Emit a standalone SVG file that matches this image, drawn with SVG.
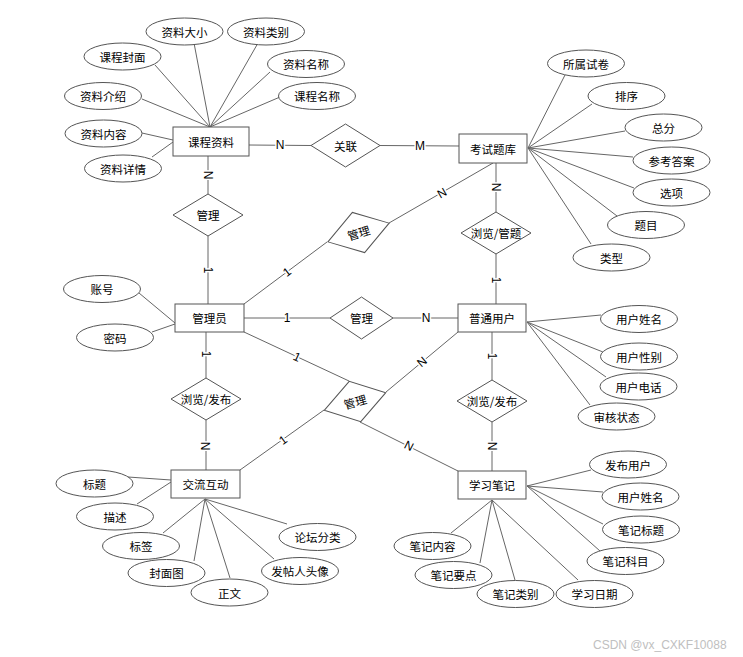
<svg xmlns="http://www.w3.org/2000/svg" width="743" height="657" viewBox="0 0 743 657">
<style>
.l{stroke:#666;stroke-width:1;fill:none}
.e{fill:#fff;stroke:#555;stroke-width:1}
.r{fill:#fff;stroke:#555;stroke-width:1}
.d{fill:#fff;stroke:#555;stroke-width:1}
.t{font-family:"Noto Sans CJK SC","Microsoft YaHei",sans-serif;font-size:11.5px;fill:#000;text-anchor:middle;dominant-baseline:central}
.c{font-family:"Liberation Sans",Arial,sans-serif;font-size:12px;fill:#000;text-anchor:middle;dominant-baseline:central;stroke:#fff;stroke-width:3;paint-order:stroke;stroke-linejoin:round}
.w{font-family:"Liberation Sans",Arial,sans-serif;font-size:12px;fill:#c0c0c0}
</style>
<rect width="743" height="657" fill="#fff"/>
<g id="connectors">
<line class="l" x1="249" y1="145" x2="311" y2="145.5"/>
<line class="l" x1="380" y1="145.5" x2="459" y2="146"/>
<line class="l" x1="208" y1="156" x2="208" y2="194"/>
<line class="l" x1="208" y1="236" x2="208" y2="304"/>
<line class="l" x1="244" y1="318" x2="330" y2="318"/>
<line class="l" x1="393" y1="318" x2="458" y2="318"/>
<line class="l" x1="244" y1="304" x2="327" y2="242"/>
<line class="l" x1="389" y1="223" x2="493" y2="163"/>
<line class="l" x1="496" y1="163" x2="496" y2="212"/>
<line class="l" x1="496" y1="254" x2="496" y2="304"/>
<line class="l" x1="492" y1="332" x2="492" y2="380"/>
<line class="l" x1="492" y1="422" x2="492" y2="471"/>
<line class="l" x1="458" y1="332" x2="386" y2="392"/>
<line class="l" x1="244" y1="332" x2="349" y2="381"/>
<line class="l" x1="360" y1="422" x2="458" y2="471"/>
<line class="l" x1="240" y1="470" x2="324" y2="410"/>
<line class="l" x1="206" y1="332" x2="206" y2="378"/>
<line class="l" x1="206" y1="420" x2="206" y2="470"/>
<!-- 课程资料 attributes -->
<line class="l" x1="155" y1="65" x2="210" y2="127"/>
<line class="l" x1="194" y1="43" x2="210" y2="127"/>
<line class="l" x1="258" y1="43" x2="210" y2="127"/>
<line class="l" x1="270" y1="72" x2="210" y2="127"/>
<line class="l" x1="280" y1="97" x2="210" y2="127"/>
<line class="l" x1="142" y1="99" x2="210" y2="127"/>
<line class="l" x1="142" y1="133" x2="173" y2="140"/>
<line class="l" x1="152" y1="157" x2="173" y2="142"/>
<!-- 考试题库 attributes -->
<line class="l" x1="565" y1="75" x2="528" y2="148"/>
<line class="l" x1="592" y1="104" x2="528" y2="148"/>
<line class="l" x1="625" y1="131" x2="528" y2="148"/>
<line class="l" x1="633" y1="157" x2="528" y2="148"/>
<line class="l" x1="634" y1="188" x2="528" y2="148"/>
<line class="l" x1="617" y1="216" x2="528" y2="148"/>
<line class="l" x1="591" y1="244" x2="528" y2="148"/>
<!-- 管理员 attributes -->
<line class="l" x1="139" y1="293" x2="175" y2="323"/>
<line class="l" x1="152" y1="332" x2="175" y2="324"/>
<!-- 普通用户 attributes -->
<line class="l" x1="601" y1="315" x2="527" y2="322"/>
<line class="l" x1="603" y1="352" x2="527" y2="322"/>
<line class="l" x1="606" y1="377" x2="527" y2="322"/>
<line class="l" x1="590" y1="405" x2="527" y2="322"/>
<!-- 交流互动 attributes -->
<line class="l" x1="128" y1="477" x2="171" y2="480"/>
<line class="l" x1="137" y1="504" x2="171" y2="482"/>
<line class="l" x1="163" y1="533" x2="205" y2="499"/>
<line class="l" x1="194" y1="561" x2="205" y2="499"/>
<line class="l" x1="230" y1="578" x2="205" y2="499"/>
<line class="l" x1="274" y1="559" x2="205" y2="499"/>
<line class="l" x1="287" y1="524" x2="205" y2="499"/>
<!-- 学习笔记 attributes -->
<line class="l" x1="591" y1="470" x2="527" y2="486"/>
<line class="l" x1="603" y1="492" x2="527" y2="486"/>
<line class="l" x1="603" y1="524" x2="527" y2="486"/>
<line class="l" x1="600" y1="551" x2="527" y2="486"/>
<line class="l" x1="451" y1="533" x2="492" y2="500"/>
<line class="l" x1="480" y1="563" x2="492" y2="500"/>
<line class="l" x1="515" y1="580" x2="492" y2="500"/>
<line class="l" x1="578" y1="580" x2="492" y2="500"/>
<!-- cardinality labels -->
<text class="c" x="280" y="145">N</text>
<text class="c" x="420" y="146">M</text>
<text class="c" transform="translate(208,175) rotate(90)">N</text>
<text class="c" transform="translate(208,270) rotate(90)">1</text>
<text class="c" x="287" y="318">1</text>
<text class="c" x="426" y="318">N</text>
<text class="c" transform="translate(287,272) rotate(-37)">1</text>
<text class="c" transform="translate(442,193) rotate(-30)">N</text>
<text class="c" transform="translate(496,187) rotate(90)">N</text>
<text class="c" transform="translate(496,280) rotate(90)">1</text>
<text class="c" transform="translate(492,356) rotate(90)">1</text>
<text class="c" transform="translate(492,446) rotate(90)">N</text>
<text class="c" transform="translate(422,362) rotate(-40)">N</text>
<text class="c" transform="translate(297,357) rotate(25)">1</text>
<text class="c" transform="translate(409,446) rotate(27)">N</text>
<text class="c" transform="translate(283,440) rotate(-36)">1</text>
<text class="c" transform="translate(206,354) rotate(90)">1</text>
<text class="c" transform="translate(205,446) rotate(90)">N</text>
</g>
<g id="entity-kczl"><rect class="r" x="173" y="127" width="76" height="29"/><text class="t" x="211" y="141.5">课程资料</text></g>
<g id="entity-kstk"><rect class="r" x="459" y="134" width="68" height="29"/><text class="t" x="493" y="148.5">考试题库</text></g>
<g id="entity-gly"><rect class="r" x="175" y="304" width="69" height="28"/><text class="t" x="209.5" y="318">管理员</text></g>
<g id="entity-ptyh"><rect class="r" x="458" y="304" width="68" height="28"/><text class="t" x="492" y="318">普通用户</text></g>
<g id="entity-jlhd"><rect class="r" x="171" y="470" width="69" height="28"/><text class="t" x="205.5" y="484">交流互动</text></g>
<g id="entity-xxbj"><rect class="r" x="458" y="471" width="68" height="28"/><text class="t" x="492" y="485">学习笔记</text></g>

<g id="rel-guanlian"><polygon class="d" points="311,145.5 345.5,124 380,145.5 345.5,167"/><text class="t" x="345.5" y="145.5">关联</text></g>
<g id="rel-guanli-1"><polygon class="d" points="173,215 208,194 243,215 208,236"/><text class="t" x="208" y="215">管理</text></g>
<g id="rel-llgt"><polygon class="d" points="461,233 496,212 531,233 496,254"/><text class="t" x="496" y="233">浏览/管题</text></g>
<g id="rel-guanli-2"><polygon class="d" points="330,318 361.5,297 393,318 361.5,339"/><text class="t" x="361.5" y="318">管理</text></g>
<g id="rel-llfb-1"><polygon class="d" points="457,401 492,380 527,401 492,422"/><text class="t" x="492" y="401">浏览/发布</text></g>
<g id="rel-llfb-2"><polygon class="d" points="171,399 206,378 241,399 206,420"/><text class="t" x="206" y="399">浏览/发布</text></g>
<g id="rel-guanli-3" transform="translate(358.5,232.5) rotate(-17)"><polygon class="d" points="-32,0 0,-21 32,0 0,21"/><text class="t" x="0" y="0">管理</text></g>
<g id="rel-guanli-4" transform="translate(355,401.5) rotate(-16)"><polygon class="d" points="-32,0 0,-21 32,0 0,21"/><text class="t" x="0" y="0">管理</text></g>

<g id="attr-zldx"><ellipse class="e" cx="184.5" cy="31.5" rx="38.5" ry="13.5"/><text class="t" x="184.5" y="31.5">资料大小</text></g>
<g id="attr-zllb"><ellipse class="e" cx="266" cy="31.5" rx="38.5" ry="13.5"/><text class="t" x="266" y="31.5">资料类别</text></g>
<g id="attr-kcfm"><ellipse class="e" cx="122.5" cy="56.5" rx="38.5" ry="13.5"/><text class="t" x="122.5" y="56.5">课程封面</text></g>
<g id="attr-zlmc"><ellipse class="e" cx="306" cy="64" rx="38.5" ry="13.5"/><text class="t" x="306" y="64">资料名称</text></g>
<g id="attr-zljs"><ellipse class="e" cx="103" cy="96" rx="38.5" ry="13.5"/><text class="t" x="103" y="96">资料介绍</text></g>
<g id="attr-kcmc"><ellipse class="e" cx="317" cy="96" rx="38.5" ry="13.5"/><text class="t" x="317" y="96">课程名称</text></g>
<g id="attr-zlnr"><ellipse class="e" cx="103.5" cy="133.5" rx="38.5" ry="13.5"/><text class="t" x="103.5" y="133.5">资料内容</text></g>
<g id="attr-zlxq"><ellipse class="e" cx="123" cy="168.5" rx="38.5" ry="13.5"/><text class="t" x="123" y="168.5">资料详情</text></g>

<g id="attr-sssj"><ellipse class="e" cx="586" cy="63.5" rx="38.5" ry="13.5"/><text class="t" x="586" y="63.5">所属试卷</text></g>
<g id="attr-px"><ellipse class="e" cx="626.5" cy="96" rx="38.5" ry="13.5"/><text class="t" x="626.5" y="96">排序</text></g>
<g id="attr-zf"><ellipse class="e" cx="663.5" cy="127.5" rx="38.5" ry="13.5"/><text class="t" x="663.5" y="127.5">总分</text></g>
<g id="attr-ckda"><ellipse class="e" cx="671.5" cy="160.5" rx="38.5" ry="13.5"/><text class="t" x="671.5" y="160.5">参考答案</text></g>
<g id="attr-xx"><ellipse class="e" cx="671.5" cy="192.5" rx="38.5" ry="13.5"/><text class="t" x="671.5" y="192.5">选项</text></g>
<g id="attr-tm"><ellipse class="e" cx="646" cy="225" rx="38.5" ry="13.5"/><text class="t" x="646" y="225">题目</text></g>
<g id="attr-lx"><ellipse class="e" cx="611.5" cy="257.5" rx="38.5" ry="13.5"/><text class="t" x="611.5" y="257.5">类型</text></g>

<g id="attr-zh"><ellipse class="e" cx="102" cy="289" rx="38.5" ry="13.5"/><text class="t" x="102" y="289">账号</text></g>
<g id="attr-mm"><ellipse class="e" cx="115" cy="337.5" rx="38.5" ry="13.5"/><text class="t" x="115" y="337.5">密码</text></g>

<g id="attr-yhxm"><ellipse class="e" cx="639" cy="319" rx="38.5" ry="13.5"/><text class="t" x="639" y="319">用户姓名</text></g>
<g id="attr-yhxb"><ellipse class="e" cx="639" cy="356.5" rx="38.5" ry="13.5"/><text class="t" x="639" y="356.5">用户性别</text></g>
<g id="attr-yhdh"><ellipse class="e" cx="638.5" cy="386.5" rx="38.5" ry="13.5"/><text class="t" x="638.5" y="386.5">用户电话</text></g>
<g id="attr-shzt"><ellipse class="e" cx="616.5" cy="416.5" rx="38.5" ry="13.5"/><text class="t" x="616.5" y="416.5">审核状态</text></g>

<g id="attr-bt"><ellipse class="e" cx="94.5" cy="483.5" rx="38.5" ry="13.5"/><text class="t" x="94.5" y="483.5">标题</text></g>
<g id="attr-ms"><ellipse class="e" cx="115" cy="516.5" rx="38.5" ry="13.5"/><text class="t" x="115" y="516.5">描述</text></g>
<g id="attr-bq"><ellipse class="e" cx="141" cy="546" rx="38.5" ry="13.5"/><text class="t" x="141" y="546">标签</text></g>
<g id="attr-fmt"><ellipse class="e" cx="166.5" cy="573" rx="38.5" ry="13.5"/><text class="t" x="166.5" y="573">封面图</text></g>
<g id="attr-zw"><ellipse class="e" cx="229.5" cy="592.5" rx="38.5" ry="13.5"/><text class="t" x="229.5" y="592.5">正文</text></g>
<g id="attr-ftrtx"><ellipse class="e" cx="300" cy="571" rx="38.5" ry="13.5"/><text class="t" x="300" y="571">发帖人头像</text></g>
<g id="attr-ltfl"><ellipse class="e" cx="317.5" cy="537" rx="38.5" ry="13.5"/><text class="t" x="317.5" y="537">论坛分类</text></g>

<g id="attr-fbyh"><ellipse class="e" cx="628" cy="464.5" rx="38.5" ry="13.5"/><text class="t" x="628" y="464.5">发布用户</text></g>
<g id="attr-yhxm2"><ellipse class="e" cx="640.5" cy="496.5" rx="38.5" ry="13.5"/><text class="t" x="640.5" y="496.5">用户姓名</text></g>
<g id="attr-bjbt"><ellipse class="e" cx="641" cy="529.5" rx="38.5" ry="13.5"/><text class="t" x="641" y="529.5">笔记标题</text></g>
<g id="attr-bjkm"><ellipse class="e" cx="625.5" cy="561" rx="38.5" ry="13.5"/><text class="t" x="625.5" y="561">笔记科目</text></g>
<g id="attr-bjnr"><ellipse class="e" cx="432.5" cy="546" rx="38.5" ry="13.5"/><text class="t" x="432.5" y="546">笔记内容</text></g>
<g id="attr-bjyd"><ellipse class="e" cx="453.5" cy="575" rx="38.5" ry="13.5"/><text class="t" x="453.5" y="575">笔记要点</text></g>
<g id="attr-bjlb"><ellipse class="e" cx="515.5" cy="594" rx="38.5" ry="13.5"/><text class="t" x="515.5" y="594">笔记类别</text></g>
<g id="attr-xxrq"><ellipse class="e" cx="594.5" cy="594" rx="38.5" ry="13.5"/><text class="t" x="594.5" y="594">学习日期</text></g>

<text class="w" x="593" y="649">CSDN @vx_CXKF10088</text>
</svg>
